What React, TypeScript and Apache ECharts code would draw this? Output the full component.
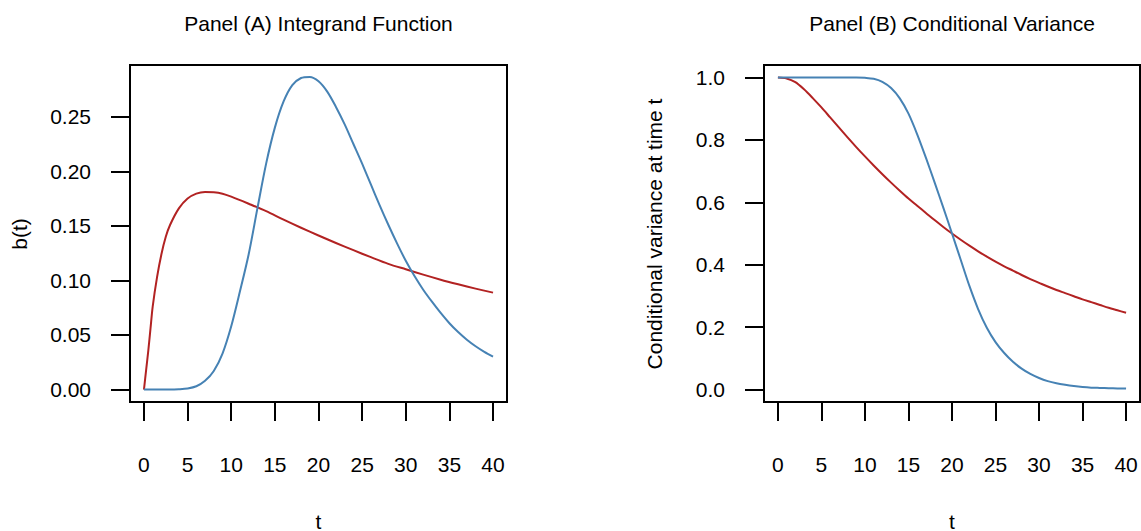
import React, { useEffect, useRef } from "react";
import * as echarts from "echarts";

// ---------- data ----------
const tInt = [0, 1, 2, 3, 4, 5, 6, 7, 8, 9, 10, 11, 12, 13, 14, 15, 16, 17, 18, 19, 20,
  21, 22, 23, 24, 25, 26, 27, 28, 29, 30, 31, 32, 33, 34, 35, 36, 37, 38, 39, 40];

// Panel A, red curve (finer sampling near t = 0 where it rises steeply)
const tARed = [0, 0.25, 0.5, 0.75, 1, 1.5, 2, 2.5, 3, 4, 5, 6, 7, 8, 9, 10, 12, 14, 16, 18, 20,
  22, 24, 26, 28, 30, 32, 34, 36, 38, 40];
const bARed = [0, 0.018, 0.036, 0.056, 0.076, 0.103, 0.124, 0.14, 0.151, 0.166, 0.175, 0.1795,
  0.181, 0.1808, 0.1795, 0.1768, 0.1703, 0.1635, 0.1557, 0.1483, 0.1412, 0.1343, 0.1277,
  0.1213, 0.1152, 0.1102, 0.1053, 0.1007, 0.0965, 0.0925, 0.0888];

// Panel A, blue curve (t = 0..40)
const bABlue = [0, 0, 0, 0, 0.0003, 0.001, 0.003, 0.008, 0.017, 0.033, 0.058, 0.09, 0.124,
  0.166, 0.207, 0.24, 0.264, 0.279, 0.2855, 0.2865, 0.2825, 0.273, 0.259, 0.243, 0.225,
  0.207, 0.188, 0.169, 0.151, 0.134, 0.118, 0.104, 0.0915, 0.0805, 0.0702, 0.0608, 0.0527,
  0.0457, 0.0397, 0.0346, 0.0302];

// Panel B, red curve (t = 0..40)
const vBRed = [1.0, 0.997, 0.985, 0.962, 0.934, 0.904, 0.872, 0.84, 0.808, 0.777, 0.747,
  0.718, 0.69, 0.663, 0.637, 0.612, 0.589, 0.566, 0.543, 0.521, 0.5, 0.48, 0.461, 0.443,
  0.426, 0.41, 0.395, 0.381, 0.367, 0.354, 0.342, 0.33, 0.319, 0.309, 0.299, 0.289, 0.28,
  0.271, 0.262, 0.254, 0.246];

// Panel B, blue curve (t = 0..40)
const vBBlue = [1, 1, 1, 1, 1, 1, 1, 1, 1, 1, 0.999, 0.996, 0.986, 0.966, 0.933, 0.884,
  0.818, 0.743, 0.664, 0.583, 0.5, 0.416, 0.332, 0.258, 0.198, 0.152, 0.117, 0.089, 0.067,
  0.05, 0.037, 0.027, 0.02, 0.015, 0.011, 0.008, 0.006, 0.005, 0.004, 0.0035, 0.003];

const xTicks = [0, 5, 10, 15, 20, 25, 30, 35, 40];
const yTicksA = [0, 0.05, 0.1, 0.15, 0.2, 0.25];
const yTicksB = [0, 0.2, 0.4, 0.6, 0.8, 1.0];

const titleA = "Panel (A) Integrand Function";
const titleB = "Panel (B) Conditional Variance";
const xName = "t";
const yNameA = "b(t)";
const yNameB = "Conditional variance at time t";

// ---------- styling ----------
const FONT = "'Liberation Sans', Arial, Helvetica, sans-serif";
const FS = 21;
const RED = "#B22222";
const BLUE = "#4682B4";

function xAxisCfg(gridIndex: number) {
  return {
    type: "value" as const,
    gridIndex,
    min: -1.6,
    max: 41.6,
    axisLine: { show: false, onZero: false },
    splitLine: { show: false },
    axisTick: {
      show: true,
      length: 19,
      customValues: xTicks,
      lineStyle: { color: "#000", width: 2 },
    },
    axisLabel: {
      customValues: xTicks,
      margin: 51.5,
      color: "#000",
      fontSize: FS,
      fontFamily: FONT,
      lineHeight: 21,
      formatter: (v: number) => String(v),
    },
  };
}

function yAxisCfg(gridIndex: number, min: number, max: number, ticks: number[], dec: number) {
  return {
    type: "value" as const,
    gridIndex,
    min,
    max,
    axisLine: { show: false, onZero: false },
    splitLine: { show: false },
    axisTick: {
      show: true,
      length: 19,
      customValues: ticks,
      lineStyle: { color: "#000", width: 2 },
    },
    axisLabel: {
      customValues: ticks,
      margin: 39,
      color: "#000",
      fontSize: FS,
      fontFamily: FONT,
      formatter: (v: number) => v.toFixed(dec),
    },
  };
}

function textEl(text: string, x: number, y: number, rotation = 0, lineHeight = 24) {
  return {
    type: "text" as const,
    x,
    y,
    rotation,
    style: {
      text,
      fill: "#000",
      fontSize: FS,
      fontFamily: FONT,
      lineHeight,
      textAlign: "center",
      textVerticalAlign: "middle",
    },
  };
}

function lineSeries(x: number, y: number, data: number[][], color: string) {
  return {
    type: "line" as const,
    xAxisIndex: x,
    yAxisIndex: y,
    data,
    showSymbol: false,
    symbol: "none",
    smooth: 0.3,
    lineStyle: { color, width: 2, join: "round" },
    z: 3,
  };
}

export default function App() {
  const ref = useRef<HTMLDivElement>(null);

  useEffect(() => {
    if (!ref.current) return;
    const chart = echarts.init(ref.current, undefined, { renderer: "svg" });

    const redA = tARed.map((t, i) => [t, bARed[i]]);
    const blueA = tInt.map((t, i) => [t, bABlue[i]]);
    const redB = tInt.map((t, i) => [t, vBRed[i]]);
    const blueB = tInt.map((t, i) => [t, vBBlue[i]]);

    chart.setOption({
      animation: false,
      backgroundColor: "#fff",
      grid: [
        { left: 130, top: 65, width: 377, height: 337, show: true, borderColor: "#000", borderWidth: 2, backgroundColor: "transparent" },
        { left: 764, top: 65, width: 376, height: 337, show: true, borderColor: "#000", borderWidth: 2, backgroundColor: "transparent" },
      ],
      xAxis: [xAxisCfg(0), xAxisCfg(1)],
      yAxis: [
        yAxisCfg(0, -0.0114, 0.2974, yTicksA, 2),
        yAxisCfg(1, -0.04, 1.04, yTicksB, 1),
      ],
      series: [
        lineSeries(0, 0, redA, RED),
        lineSeries(0, 0, blueA, BLUE),
        lineSeries(1, 1, redB, RED),
        lineSeries(1, 1, blueB, BLUE),
      ],
      graphic: [
        textEl(titleA, 318.5, 23),
        textEl(titleB, 952, 23),
        textEl(xName, 318.5, 521, 0, 16),
        textEl(xName, 952, 521, 0, 16),
        textEl(yNameA, 19, 234, Math.PI / 2),
        textEl(yNameB, 654, 234, Math.PI / 2),
      ],
    });

    return () => chart.dispose();
  }, []);

  return (
    <div
      ref={ref}
      style={{ position: "fixed", left: 0, top: 0, width: 1141, height: 531, background: "#fff" }}
    />
  );
}
